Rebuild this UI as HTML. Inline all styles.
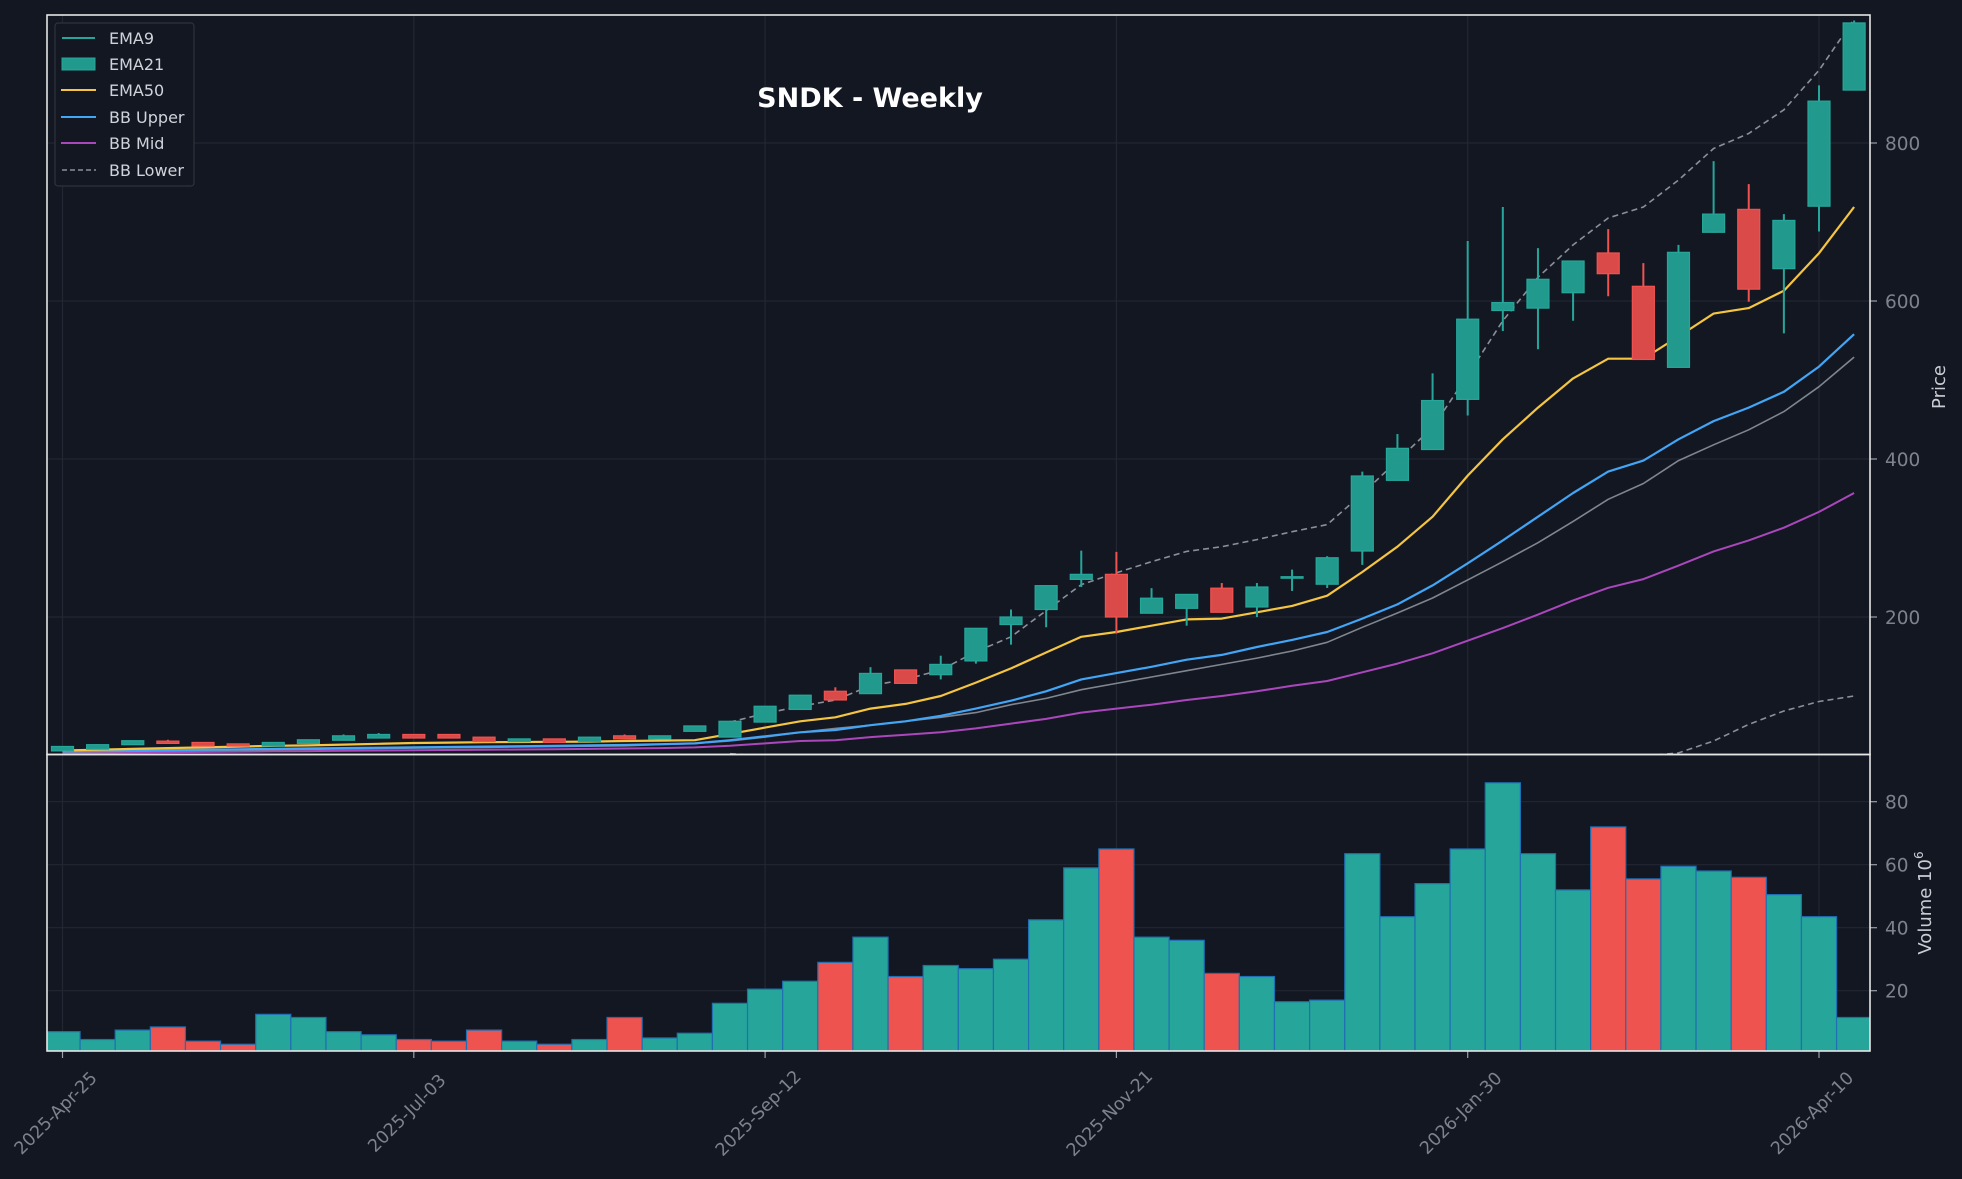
<!DOCTYPE html>
<html><head><meta charset="utf-8"><title>SNDK - Weekly</title>
<style>
html,body{margin:0;padding:0;background:#131722;}
svg{display:block;font-family:"DejaVu Sans","Liberation Sans",sans-serif;}
</style></head>
<body>
<svg id="chart" width="1962" height="1179" viewBox="0 0 1962 1179" xmlns="http://www.w3.org/2000/svg">
<rect x="0" y="0" width="1962" height="1179" fill="#131722"/>
<defs>
<clipPath id="pclip"><rect x="47" y="15" width="1823" height="739.5"/></clipPath>
<clipPath id="vclip"><rect x="47" y="754.5" width="1823" height="296.5"/></clipPath>
</defs>
<g id="grid"></g>
<g id="vol" clip-path="url(#vclip)"></g>
<g id="lines" clip-path="url(#pclip)"></g>
<g id="candles" clip-path="url(#pclip)"></g>
<g id="axes"></g>
<text x="870" y="107" text-anchor="middle" font-size="27" font-weight="bold" fill="#ffffff">SNDK - Weekly</text>
<g id="legend">
<rect x="55" y="23" width="139" height="163" rx="3" fill="#131722" stroke="#2e323b" stroke-width="1.2"/>
<g><line x1="62" y1="38" x2="95" y2="38" stroke="#26a69a" stroke-width="2"/><text x="109" y="44" font-size="16" fill="#d0d3da">EMA9</text></g>
<g><rect x="62" y="58" width="33" height="12" fill="#22998d" stroke="#26a69a"/><text x="109" y="70" font-size="16" fill="#d0d3da">EMA21</text></g>
<g><line x1="61" y1="90" x2="96" y2="90" stroke="#f5c542" stroke-width="2"/><text x="109" y="96" font-size="16" fill="#d0d3da">EMA50</text></g>
<g><line x1="61" y1="117" x2="96" y2="117" stroke="#42a5f5" stroke-width="2"/><text x="109" y="123" font-size="16" fill="#d0d3da">BB Upper</text></g>
<g><line x1="61" y1="143" x2="96" y2="143" stroke="#ab47bc" stroke-width="2"/><text x="109" y="149" font-size="16" fill="#d0d3da">BB Mid</text></g>
<g><line x1="62" y1="170" x2="96" y2="170" stroke="#8a9099" stroke-width="1.5" stroke-dasharray="5,3"/><text x="109" y="176" font-size="16" fill="#d0d3da">BB Lower</text></g>
</g>
</svg>
<script>
const xLabels = ["2025-Apr-25","2025-Jul-03","2025-Sep-12","2025-Nov-21","2026-Jan-30","2026-Apr-10"];
const priceTicks = [200,400,600,800];
const volTicks = [20,40,60,80];
const opens  = [30.5,32.7,38.4,42.9,41.2,39.4,36.7,40,44,46.8,51.3,51.3,47.9,42.3,45.7,42.3,49.6,45.7,55.3,48,67,83,106,103,133,127,144.4,190.5,209.5,247.6,254,204.8,211,236.5,212.7,250,241.5,283.5,373,412,475.5,588,591,610.5,660.8,618.6,516,687,716,641,720,867];
const closes = [36.1,38.4,43.4,40,36.7,36.7,41.2,44.6,49.6,51.3,46.8,46.8,42.3,45.7,41.2,47.9,45.7,49.6,62.1,68,87,101,95,128.6,116,140,185.7,200,239.7,254,200,223.8,228.6,206,238,251,275,378.5,413.5,474,577,598,627.5,650.6,634.6,526,661.6,710,615,702,853,952];
const highs  = [36.5,38.8,43.8,44.6,41.6,39.8,41.6,45,51.3,53.1,51.8,51.8,48.3,46.1,46.1,48.3,51.3,50,62.5,68.5,87.5,101.5,111,136.5,133.5,151,186,209.5,240,284,282.5,236.5,229,243,243,260,277,384,431.6,508.4,676,719,667,651,691,648,671,777,748,710,873,955];
const lows   = [30,32.3,38,39.6,36.3,36.3,36.3,39.6,43.6,46.4,46.4,46.4,41.9,41.9,40.8,41.9,45.3,45.3,54.9,47.6,66.5,82.5,94.5,102.5,115.5,121,141,165,187,238,179,204.4,189,205.5,200,233,236.7,266,372.6,411.6,455,562,539,575,606,526,515.6,686.5,599,559,688,866.5];
const volumes = [7,4.5,7.5,8.5,4,3,12.5,11.5,7,6,4.5,4,7.5,4,3,4.5,11.5,5,6.5,16,20.5,23,29,37,24.5,28,27,30,42.5,59,65,37,36,25.5,24.5,16.5,17,63.5,43.5,54,65,86,63.5,52,72,55.5,59.5,58,56,50.5,43.5,11.5];
const ema50 = [31,32,33,34,35,36,37,37.5,38.5,39.5,40.5,41,41.5,41.8,42,42.3,43,43.5,44,52,60,68,73,84,90,100,117,135,155,175,181,189,197,198,206,214,227,257,289,327,379,425,465,502,527,527,555,584,591,613,660.5,719];
const bbUpper = [30,30.5,31,31.5,32,32.5,33,33.5,34,34.5,35,35.5,36,36.5,37,37.5,38,39,40,44,49,54,57,63,68,75,84,94,106,121,129,137,146,152,162,171,181,198,216,240,268,297,327,357,384,398,425,448,465,485,517,558];
const smaLine = [29,29.5,30,30.5,31,31.5,32,32.5,33,33.5,34,34.5,35,35.5,36,36.5,37,38.5,40,43,48,54,59,63,68,73,79,89,97,108,116,124,132,140,148,157,168,187,205,224,247,270,294,321,349,369,398,418,437,460,491.5,529];
const bbMid = [28,28.3,28.6,29,29.3,29.6,30,30.3,30.6,31,31.3,31.6,32,32.3,32.6,33,33.5,34,35,37,40,43,44,48,51,54,59,65,71,79,84,89,95,100,106,113,119,130,141,154,170,186,203,221,237,248,265,283,297,313,333,357];
const bbBandHigh = [null,null,null,null,null,null,null,null,null,null,null,null,null,null,null,null,null,null,null,67,78,87,95,113,121,133,156,175,208,241,256,270,283,289,298,308,317,356,398,440,506,575,630,671,705,719,753,793,812,842,892,957];
const bbBandLow = [null,null,null,null,null,null,null,null,null,null,null,null,null,null,null,null,null,null,null,27,24,20,16,12,8,5,2,0,-5,-10,-12,-14,-15,-15,-14,-12,-10,-8,-5,0,5,12,18,20,22,24,28,43,64,81,93,100];

const NS = "http://www.w3.org/2000/svg";
const X0 = 62.5, DX = 35.13;
const L = 47, R = 1870, PT = 15, PB = 754.5, VB = 1051;
function xs(i){ return X0 + DX*i; }
function yp(p){ return 775 - 0.79*p; }
function yv(v){ return 1053.7 - 3.15*v; }
function mk(tag, attrs, parent){
  const e = document.createElementNS(NS, tag);
  for (const k in attrs) e.setAttribute(k, attrs[k]);
  parent.appendChild(e);
  return e;
}
const grid = document.getElementById('grid');
const axes = document.getElementById('axes');
const gc = "#232733";
xLabels.forEach((lab, k) => {
  const x = xs(k*10);
  const gl = mk('line', {x1:x, y1:PT, x2:x, y2:VB, stroke:gc, 'stroke-width':1.2}, grid);
  
  
  const t = mk('line', {x1:x, y1:VB, x2:x, y2:VB+7, stroke:"#9aa0a8", 'stroke-width':1.2}, axes);
  
  
  const cx = x - 7, cy = 1113;
  const tx = mk('text', {x:cx, y:cy+6, 'font-size':17.5, fill:"#7d828c", 'text-anchor':'middle', transform:`rotate(-45 ${cx} ${cy})`}, axes);
  tx.textContent = lab;
  
  
});
priceTicks.forEach(p => {
  const y = yp(p);
  const gl = mk('line', {x1:L, y1:y, x2:R, y2:y, stroke:gc, 'stroke-width':1.2}, grid);
  
  
  const t = mk('line', {x1:R, y1:y, x2:R+7, y2:y, stroke:"#9aa0a8", 'stroke-width':1.2}, axes);
  
  
  const tx = mk('text', {x:R+15, y:y+7, 'font-size':18.5, fill:"#7d828c"}, axes);
  tx.textContent = p;
  
  
});
volTicks.forEach(v => {
  const y = yv(v);
  const gl = mk('line', {x1:L, y1:y, x2:R, y2:y, stroke:gc, 'stroke-width':1.2}, grid);
  
  
  const t = mk('line', {x1:R, y1:y, x2:R+7, y2:y, stroke:"#9aa0a8", 'stroke-width':1.2}, axes);
  
  
  const tx = mk('text', {x:R+15, y:y+7, 'font-size':18.5, fill:"#7d828c"}, axes);
  tx.textContent = v;
  
  
});
const vol = document.getElementById('vol');
volumes.forEach((v, i) => {
  const up = closes[i] >= opens[i];
  const y = yv(v);
  const b = mk('rect', {x:xs(i)-DX/2, y:y, width:DX, height:yv(0)-y, fill: up ? "#26a69a" : "#ef5350", stroke:"#1f6fb4", 'stroke-width':1.2}, vol);
  
  
});
const lines = document.getElementById('lines');
function path(arr, color, w, dash, name){
  let d = "", pen = false;
  arr.forEach((v, i) => {
    if (v === null) { pen = false; return; }
    d += (pen ? "L" : "M") + xs(i).toFixed(1) + "," + yp(v).toFixed(1);
    pen = true;
  });
  const p = mk('path', {d:d, fill:'none', stroke:color, 'stroke-width':w, 'stroke-linejoin':'round'}, lines);
  if (dash) p.setAttribute('stroke-dasharray', dash);
  
  
}
path(bbMid, "#ab47bc", 2, null, 'bb-mid-line');
path(smaLine, "#7f868f", 1.6, null, 'gray-ma-line');
path(bbUpper, "#42a5f5", 2.2, null, 'bb-upper-line');
path(ema50, "#f5c542", 2.2, null, 'ema50-line');
path(bbBandHigh, "#8a9099", 1.6, "6,4", 'bb-dashed-upper-line');
path(bbBandLow, "#8a9099", 1.6, "6,4", 'bb-lower-line');
const cg = document.getElementById('candles');
opens.forEach((o, i) => {
  const c = closes[i], up = c >= o;
  const col = up ? "#26a69a" : "#ef5350";
  const fill = up ? "#22998d" : "#d94a48";
  const x = xs(i);
  const w = mk('line', {x1:x, y1:yp(highs[i]), x2:x, y2:yp(lows[i]), stroke:col, 'stroke-width':2}, cg);
  
  
  const top = yp(Math.max(o, c)), bot = yp(Math.min(o, c));
  const b = mk('rect', {x:x-11, y:top, width:22, height:Math.max(bot-top, 1.5), fill:fill, stroke:col, 'stroke-width':1.2}, cg);
  
  
});
const f1 = mk('rect', {x:L, y:PT, width:R-L, height:PB-PT, fill:'none', stroke:'#e6e6e6', 'stroke-width':1.6}, axes);


const f2 = mk('rect', {x:L, y:PB, width:R-L, height:VB-PB, fill:'none', stroke:'#e6e6e6', 'stroke-width':1.6}, axes);


const pl = mk('text', {x:1945, y:387, 'font-size':18, fill:'#c9ccd2', 'text-anchor':'middle', transform:'rotate(-90 1945 387)'}, axes);
pl.textContent = 'Price';


const vl = mk('text', {x:1931, y:903, 'font-size':18, fill:'#c9ccd2', 'text-anchor':'middle', transform:'rotate(-90 1931 903)'}, axes);
vl.innerHTML = 'Volume  10<tspan font-size="12" dy="-8">6</tspan>';


</script>
</body></html>
